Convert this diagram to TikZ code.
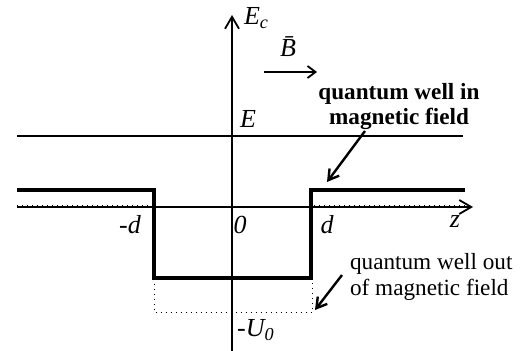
\documentclass[tikz,border=0pt]{standalone}
\usepackage{fontspec}
\setmainfont{Liberation Serif}
\usepackage{tikz}
\usetikzlibrary{arrows.meta,calc}

\begin{document}
\begin{tikzpicture}[x=0.5pt,y=-0.5pt,
    every node/.style={font=\fontsize{11.6}{13}\selectfont},
    lbl/.style={font=\fontsize{13}{15}\selectfont\itshape}]
    \useasboundingbox (0,0) rectangle (522,351);
    \def\zl{207}
    \def\hb{190}
    \def\hw{278}
    \def\hu{312}
    \coordinate (yb) at (232,351);
    \coordinate (yt) at (232,15);
    \coordinate (zl) at (17,\zl);
    \coordinate (zr) at (473,\zl);
    \coordinate (el) at (17,136);
    \coordinate (er) at (463,136);
    \coordinate (w1) at (17,\hb);
    \coordinate (w2) at (154,\hb);
    \coordinate (w3) at (154,\hw);
    \coordinate (w4) at (311,\hw);
    \coordinate (w5) at (311,\hb);
    \coordinate (w6) at (465,\hb);
    \coordinate (u1) at (154,\hu);
    \coordinate (u2) at (312,\hu);
    \coordinate (b1) at (264,72);
    \coordinate (b2) at (317,72);
    \coordinate (a1) at (365,131);
    \coordinate (a2) at (327,182);
    \coordinate (c1) at (342,275);
    \coordinate (c2) at (315,310);
    % axes
    \draw[line width=0.9pt,-{Straight Barb[length=6pt,width=7pt]}] (yb) -- (yt);
    \draw[line width=0.9pt,-{Straight Barb[length=6pt,width=7pt]}] (zl) -- (zr);
    \draw[line width=0.7pt] (el) -- (er);
    % well out of field
    \draw[dotted,line width=0.5pt] (17,205.5) -- (154,205.5) -- (u1) -- (u2) -- (312,205.5) -- (465,205.5);
    % well in field
    \draw[line width=2.3pt] (w1) -- (w2) -- (w3) -- (w4) -- (w5) -- (w6);
    \draw[line width=0.9pt,-{Straight Barb[length=4pt,width=6pt]}] (b1) -- (b2);
    \node[lbl,anchor=west] (Ec) at (237,18) {E\textsubscript{c}};
    \node[lbl] (B) at (288,47) {\=B};
    \node[lbl] (E) at (248,119) {E};
    \node[lbl] (md) at (130,225) {-d};
    \node[lbl] (o) at (240,225) {0};
    \node[lbl] (d) at (327,225) {d};
    \node[lbl] (z) at (455,222) {z};
    \node[lbl] (mU) at (256,330) {-U\textsubscript{0}};
    \node[align=center,font=\fontsize{11.6}{12.5}\selectfont\bfseries] (in) at (399,107) {quantum well in\\magnetic field};
    \node[align=left,anchor=west] (out) at (343,277) {quantum well out\\of magnetic field};
    \draw[line width=1.2pt,-{Straight Barb[length=5pt,width=6pt]}] (a1) -- (a2);
    \draw[line width=1.2pt,-{Straight Barb[length=5pt,width=6pt]}] (c1) -- (c2);
\end{tikzpicture}
\end{document}
